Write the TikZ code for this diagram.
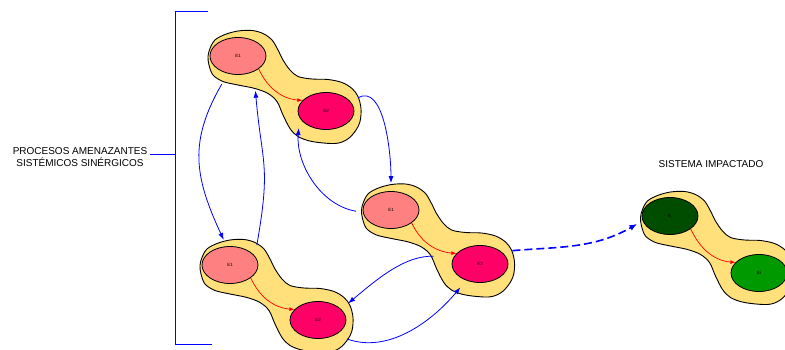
\documentclass[tikz,border=0pt]{standalone}
\usepackage{fontspec}
\setmainfont{Liberation Sans}
\usetikzlibrary{shapes.geometric,arrows.meta}
\definecolor{blobyellow}{RGB}{255,224,122}
\definecolor{evsalmon}{RGB}{255,128,128}
\definecolor{evpink}{RGB}{255,0,102}
\definecolor{evdark}{RGB}{0,77,0}
\definecolor{evgreen}{RGB}{0,153,0}
\newcommand{\pairblob}[1]{%
  \draw[blob, shift={(#1)}] plot[smooth cycle, tension=0.55] coordinates {
    (-74,-27) (-72,-35) (-67,-43.5) (-57,-49) (-44,-52.5) (-30,-53) (-19,-50)
    (-10,-43.5) (-4,-33.5) (1,-23.5) (8,-13.5) (16,-7) (30,-4.5) (46,-4)
    (60,-1) (70,5) (76,13) (79,25) (78,38) (73,48) (65,56) (53,60) (30,58)
    (16,53) (8,45) (1,31.5) (-5,18) (-14,10) (-27,5) (-44,1.5) (-59,-2)
    (-69,-8.5) (-73,-18.5)};}
\tikzset{
  blob/.style={fill=blobyellow, draw=black, line width=0.9pt},
  event/.style={ellipse, draw=black, line width=0.8pt, minimum width=56pt,
    minimum height=37pt, inner sep=0pt, font=\fontsize{4.5}{5}\selectfont},
  chain/.style={red, line width=0.7pt, -{Latex[length=5pt,width=4pt]}},
  link/.style={blue, line width=0.8pt, -{Latex[length=7pt,width=5pt]}},
  impact/.style={blue, line width=1.6pt, dash pattern=on 8pt off 4pt,
    -{Latex[length=8pt,width=6pt]}},
  bracket/.style={blue, line width=1pt},
  caption/.style={align=center, inner sep=0pt, font=\fontsize{10}{12.3}\selectfont}
}
\begin{document}
\begin{tikzpicture}[x=1pt, y=-1pt]
  \useasboundingbox (0,0) rectangle (785,350);

  \pairblob{282,83.5}
  \pairblob{435.5,237}
  \pairblob{274,292.5}
  \pairblob{714.5,244.5}

  \node[event, fill=evsalmon] (a1) at (238,56) {E1};
  \node[event, fill=evpink] (a2) at (326,111) {E2};
  \node[event, fill=evsalmon] (b1) at (391,210) {E1};
  \node[event, fill=evpink] (b2) at (480,264) {E2};
  \node[event, fill=evsalmon] (c1) at (230,265) {E1};
  \node[event, fill=evpink] (c2) at (318,320) {E2};
  \node[event, fill=evdark] (d1) at (670,216) {E\textsubscript{i}};
  \node[event, fill=evgreen] (d2) at (759,273) {Ei};

  \draw[chain] (a1.-32) to[out=-65, in=175] (a2.156);
  \draw[chain] (b1.-32) to[out=-65, in=175] (b2.156);
  \draw[chain] (c1.-32) to[out=-65, in=175] (c2.156);
  \draw[chain] (d1.-32) to[out=-65, in=175] (d2.156);

  \draw[link, shorten <=12pt, shorten >=7pt] (a1.-120) to[out=-120, in=115, looseness=1.15] (c1.100);
  \draw[link, shorten <=11pt, shorten >=19pt] (c1.20) to[out=80, in=-85, looseness=1.3] (a1.-45);
  \draw[link, shorten <=8pt, shorten >=8pt] (a2.20) to[out=30, in=90] (b1.90);
  \draw[link, shorten <=7pt, shorten >=10pt] (b1.185) to[out=170, in=-95] (a2.-165);
  \draw[link, shorten <=20pt, shorten >=9pt] (b2.165) to[out=178, in=40] (c2.25);
  \draw[link, shorten <=12pt, shorten >=9pt] (c2.-40) to[out=-20, in=-130] (b2.-130);
  \draw[impact, shorten <=11pt, shorten >=6pt] (b2.30) to[out=5, in=-150] (d1.-170);

  \node[caption] (threat) at (80,157) {PROCESOS AMENAZANTES\\SISTÉMICOS SINÉRGICOS};
  \node[caption] (target) at (711,164) {SISTEMA IMPACTADO};
  \draw[bracket] (208,12) -- (175,12) -- (175,344) -- (212,344);
  \draw[bracket] (175,155) -- (150,155);
\end{tikzpicture}
\end{document}
